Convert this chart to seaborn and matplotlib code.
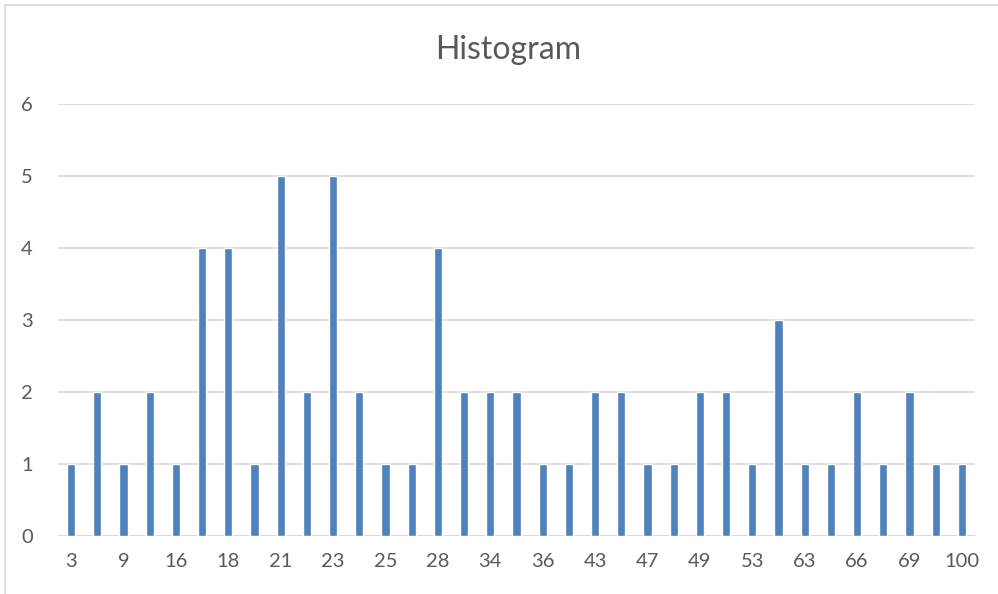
import numpy as np
import pandas as pd
import matplotlib.pyplot as plt
import seaborn as sns
from matplotlib.patches import Rectangle

# bin labels (every other one shows on the axis)
bins = ["3", "6", "9", "12", "16", "17", "18", "20", "21", "22", "23", "24",
        "25", "27", "28", "30", "34", "35", "36", "40", "43", "45", "47", "48",
        "49", "51", "53", "60", "63", "65", "66", "68", "69", "80", "100"]
counts = [1, 2, 1, 2, 1, 4, 4, 1, 5, 2, 5, 2, 1, 1, 4, 2, 2, 2, 1, 1, 2, 2,
          1, 1, 2, 2, 1, 3, 1, 1, 2, 1, 2, 1, 1]

df = pd.DataFrame({"bin": bins, "count": counts})

sns.set_style("white")
plt.rcParams['font.family'] = ['Lato', 'DejaVu Sans']
text_col = "#595959"

fig = plt.figure(figsize=(9.98, 5.94), dpi=100)
ax = fig.add_axes([58/998, (594-536)/594, (975-58)/998, (536-104)/594])

sns.barplot(data=df, x="bin", y="count", order=bins, color="#4F81BD",
            saturation=1, width=0.32, ax=ax, zorder=3)

ax.set_ylim(0, 6)
ax.set_xlim(-0.5, len(bins) - 0.5)
ax.set_yticks(range(0, 7))
ax.yaxis.grid(True, color="#D9D9D9", linewidth=1.2, zorder=0)
ax.set_axisbelow(True)
ax.set_xticks(range(0, len(bins), 2))
ax.set_xticklabels(bins[::2])
ax.tick_params(axis="both", length=0, labelsize=14.5, labelcolor=text_col)
ax.tick_params(axis="x", pad=12)
ax.tick_params(axis="y", pad=18)
ax.set_xlabel("")
ax.set_ylabel("")
for s in ax.spines.values():
    s.set_visible(False)
ax.axhline(0, color="#D9D9D9", linewidth=1.2, zorder=1)

fig.text(508/998, 1 - 50/594, "Histogram", ha="center", va="center",
         fontsize=23, color=text_col)

fig.patches.append(Rectangle((5/998, -0.01), 1.0, 1.0 - 5/594 + 0.01,
                             transform=fig.transFigure, fill=False,
                             edgecolor="#D9D9D9", linewidth=1.2))

fig.savefig("out.png", dpi=100)
